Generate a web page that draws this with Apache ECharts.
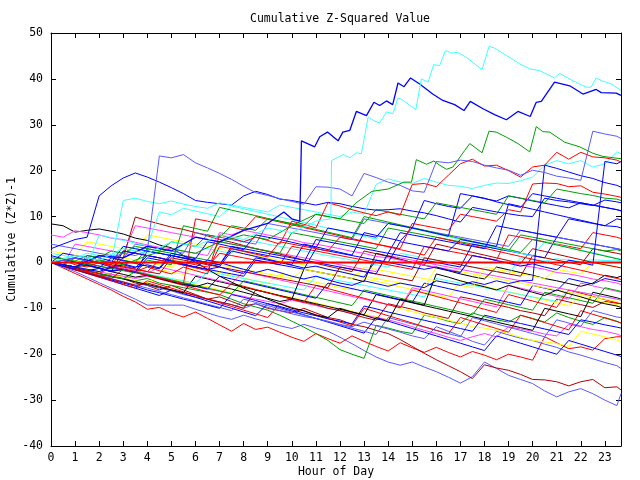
<!DOCTYPE html>
<html><head><meta charset="utf-8">
<script src="https://cdn.jsdelivr.net/npm/echarts@6/dist/echarts.min.js"></script>
<style>html,body{margin:0;padding:0;background:#fff}#c{width:640px;height:480px}</style>
</head><body><div id="c"></div>
<script>
const FONT = 'DejaVu Sans Mono';
const BLUE='#0000ff', LBLUE='#5a5aff', RED='#ff0000', DRED='#b00000', GREEN='#00a000', CYAN='#40ffff', MAG='#ff40ff', YEL='#ffff00', BLK='#000000';

// half-hour grid used by most lines
const hours = [0,0.5,1,1.5,2,2.5,3,3.5,4,4.5,5,5.5,6,6.5,7,7.5,8,8.5,9,9.5,10,10.5,11,11.5,12,12.5,13,13.5,14,14.5,15,15.5,16,16.5,17,17.5,18,18.5,19,19.5,20,20.5,21,21.5,22,22.5,23,23.5,23.67];

const L1 = [0,-1.2,-2.4,-3.6,-4.8,-6,-7.4,-8.6,-10.2,-9.8,-11,-11.9, -10.8,-12.2,-13.6,-15,-13.3,-14.6,-14.1,-15.2,-16.3,-17.2,-15.5,-16.6, -17.6,-16,-17.2,-18.3,-19.3,-17.5,-18.6,-19.6,-18.5,-19.6,-20.6,-19.4, -20.2,-21.2,-20,-20.6,-21.3,-16.2,-17.5,-18.8,-18.4,-19.1,-16.6,-16.2, -16.2];
const LB1 = [0,-1,-2,-3.2,-4.4,-5.6,-6.8,-8,-9.3,-9.3,-9.3,-9.3, -10.2,-11,-11.8,-12.4,-11.5,-12.3,-13,-13.8,-14.4,-13.5,-14.3,-15, -16.3,-17.7,-19.2,-20.6,-21.7,-22.4,-21.7,-22.8,-23.8,-25,-26.3,-24.9, -21.7,-23.1,-24.6,-25.5,-26.4,-28,-29.3,-28.2,-27.5,-28.6,-30,-31.2, -28.6];
const DR1 = [0,-0.5,-1.5,-2,-3,-2.5,-3.5,-4.5,-5,-6,-5,-6, -7,-8,-7.5,-8.5,-9.5,-9,-10,-10.5,-11,-10,-11,-12, -12.5,-13.5,-14,-14.8,-15.5,-16.8,-18.3,-19.8,-21.2,-22.5,-23.8,-25.3, -22.3,-23,-23.5,-24.4,-25.5,-25.6,-26,-26.9,-26,-25.5,-27.3,-27.1, -27.8];
const G1 = [0,-0.5,-1,-1.5,-2.5,-3,-3.5,-4,-3.5,-4.5,-5,-5.5, -6,-6.5,-7,-8,-9,-9.7,-10.4,-11.5,-12.8,-14.1,-15.5,-17, -19,-20,-20.9,-13.7,-14.3,-15,-15.5,-11.5,-12,-12.8,-13.3,-11, -11.8,-12.5,-13,-11.5,-12.2,-13,-11,-12,-12.8,-13.5,-12,-12.8, -13.2];
const LB2 = [0,-0.5,-1.2,-1.8,-2.5,-3.2,-3.5,-4.2,-5,-5.6,-6.2,-7, -7.5,-8,-8.6,-9.2,-10,-9,-9.8,-10.5,-11.2,-11.8,-12.2,-12.8, -13.5,-14,-13,-13.8,-14.5,-15.2,-16,-16.6,-14,-15,-16,-17.2, -18,-15,-15.8,-16.5,-17,-17.8,-18.5,-19.5,-20.2,-21,-21.8,-22.5, -23.1];
const R2 = [0,0.5,-0.5,-1,0,-0.8,-1.5,-2,-1,-1.8,-2.5,-1, -1.8,-2.5,6,5.3,4.5,5.5,4.8,4,9,8.3,7.5,13, 12.3,11.5,10.8,10.2,11,10.3,17,17.2,16.5,19,21.5,22.5, 21,21.2,20,18.6,20.8,21.2,24,22.5,24,23,22.8,22.3, 21.9];
const F1 = [0,-0.5,-1,-0.5,-1.2,-2,2.5,2,1.5,1,0.3,-0.5, -1,0.5,0,-0.8,-1.5,-2.2,-1.5,-2.2,-3,-3.6,-3,-3.8, -4.5,-5,-4,-4.6,-5.2,-4.5,-5,-5.5,-4,-4.5,-5,-4.2, -4.8,-4,-4.6,-4,-3.9,21.2,20.5,19.7,18.9,18.3,17.4,16.8, 16.4];
const S1 = [0,0.5,1,0.5,-0.2,-1,-0.5,-1.2,1.5,1,0.3,-0.3, -1,-1.5,-1,-1.8,-2.4,1,0.5,0,-0.6,-1.2,-0.8,-1.5, -2,-2.6,-3.2,0.5,0,-0.5,-1,-1.5,-1,-1.7,-2.2,1.5, 1,0.4,-0.2,-0.8,-0.3,-1,-1.6,0.5,0,-0.6,22,21.5, 22];
const J1 = [3,4,5,5.5,14.5,16.7,18.4,19.5,18.6,17.5,16.3,15, 13.5,13.1,12.8,12.5,14.5,15.5,14.8,13.8,13.5,13,12.5,13.1, 12.8,12.2,11.7,11.4,11.5,11.7,11.2,10.8,10.2,9.5,8.8,12, 11.5,11,10.6,10.2,10,14,13.5,13.2,12.8,12.4,13.6,13.2, 13];
const K1 = [8.4,8,6.6,7,7.3,6.8,6.2,5.3,4.8,3.8,3.2,1.5, 0,-1.5,-3,-4.3,-5.6,-6.8,-8,-9,-10,-10.5,-11.5,-12, -10,-10.8,-11.5,-12.3,-12.8,-8,-8.7,-9.3,-2.5,-3.2,-4,-4.7, -5.3,-6,-5,-5.8,-6.5,-7.2,-6,-6.8,-7.5,-8.3,-9,-9.5, -9.8];
const K2 = [0,-0.5,-1.2,-1.8,-1.3,-2,-2.6,-3.2,-2.8,-3.5,-4.2,-4.8, -5.3,-4.5,-5.2,-5.8,-6.5,-7.2,-7.8,-8.5,-8,-1.5,-2,-2.5, -3,-3.5,-4.2,2,1.4,0.7,0,-0.6,-1.2,-1.8,-2.5,-3.1, -3.6,-1,-1.6,-2.2,-2.8,-3.5,-4,-4.6,-5.2,-4.5,-2.8,-3.3, -3];
const G2 = [1,0.8,0.3,1.5,1,2.5,2,3.5,3,2.5,4.5,4, 3.5,6,5.5,8,7.5,7,9.5,9,8.5,8,10.5,10, 9.5,9,8.5,11.5,11,10.5,10,9.5,13,12.5,12,11.5, 11,10.5,14.5,14,13.5,13,16,15.5,15,14.6,14,13.8, 13.5];
const C2 = [0,0.5,-0.2,1,0.5,0,13.5,14,13.3,12.8,13.4,12.7, 12.2,11.8,13,12.5,12,11.5,11,12.5,12,11.5,11,10.5, 10,11,10.5,17,18.2,17.5,17.2,18.3,17.5,16.8,16.6,16.1, 16.8,17.3,17.2,17.8,18.6,21.2,22.2,21.5,22.2,20.8,21.5,24.1, 23.7];
const B3 = [0,-0.8,-1.5,1.5,1,0.3,-0.3,-1,-0.5,-1.2,2,1.4, 0.8,4.5,4,3.4,2.8,6,5.5,5,4.4,3.8,3.2,7.5, 7,6.5,6,5.5,8.5,8,7.5,13.5,12.8,12.2,11.8,14.5, 14,13.2,12.6,12,15,14.5,14,13.5,13,12.5,12,11.5, 11.3];
const B4 = [0,0.5,0,-0.7,-1.3,-2,-1.5,-2.2,2.5,2,1.5,1, 0.5,0,-0.5,3,2.5,2,1.5,1,0.5,0,5,4.5, 4,3.5,3,2.5,2,6.5,6,5.5,5,4.5,4,3.5, 3,8,7.5,7,6.5,6,5.5,9.5,9,8.5,8,7.8, 7.5];
const R4 = [0,-0.6,-1.2,1,0.4,-0.2,-0.8,-1.4,-2,0.5,0,-0.6, -1.2,-1.8,3.5,3,2.4,1.8,1.2,4.5,4,3.5,3,2.5, 5.5,5,4.5,4,3.5,3,8.5,8,7.5,7,10.5,10, 9.5,9,11.5,11,17.1,17.3,17.2,16.5,16.7,15.3,14.9,14.4, 14.2];
const DR2 = [0,-0.8,-1.6,-2.2,-3,-3.6,-4.3,-5,-4.5,-5.2,-6,-6.6, -7.2,-8,-8.6,-9.2,-10,-6,-6.6,-7.3,-8,-8.6,-9.2,-10, -10.5,-11.2,-12,-12.6,-9,-9.6,-10.2,-11,-11.6,-12.2,-7.5,-8, -8.6,-9.2,-9.8,-10.5,-11,-11.6,-8,-8.6,-9.2,-9.8,-8.5,-8.9, -9];
const DR3 = [0,-0.5,-1,-0.2,-0.8,-1.4,1,9.9,9.1,8.4,7.7,7.2, 6.5,5.8,5,4.4,3.7,3,2.4,1.8,1.2,0.5,-0.2,-0.8, -1.4,-2,2.5,1.9,1.3,0.6,0,-0.6,4,3.4,2.8,2.2, 1.6,1,0.4,-0.2,3,2.4,1.8,1.2,0.6,0,-0.5,-1, -1.2];
const M1 = [6,5.5,6.9,6.5,6,5.3,5,4.4,3.8,3.3,3,2.4, 2,1.5,6.5,6,7,6.5,6,5.4,5,4.3,4,3.5, 3,2.4,2,1.3,1,0.5,0,-0.6,-1,-1.5,-2.1,1.5, 1,0.4,0,-0.6,-1,-1.5,-2.2,-2.5,-3,-3.6,-4,-4.5, -4.8];
const M2 = [0,-0.5,-1,-1.6,-2,-2.6,-3,-3.5,-3,-3.6,-4.2,-4.8, -5.2,-5.8,-6.3,-6.9,-7.4,-8,-8.5,-9,-8.2,-8.8,-9.4,-10, -10.5,-11,-11.5,-12,-12.5,-13.2,-14,-14.8,-15.5,-16.3,-17,-16.2, -15.5,-16.2,-14,-14.5,-15,-15.6,-16,-13.5,-14,-14.6,-15,-15.6, -16];
const M3 = [0,-0.6,-1.2,0.5,0,-0.6,-1.2,-1.8,-2.4,-1,-1.6,-2.2, -2.8,-3.4,-4,-4.6,-2,-2.6,-3.2,-3.8,-4.4,-5,-5.6,-6.2, -6.8,-7.4,-8,-8.6,-9.2,-9.8,-5.5,-6.1,-6.7,-7.3,-7.9,-8.5, -9.1,-9.7,-5,-5.6,-6.2,-6.8,-7.4,-8,-4.5,-5.1,-5.7,-6.3, -6.5];
const Y1 = [0,-0.4,-1.1,-1.5,-2.3,-2.8,-3.2,-4,-4.4,-3,-3.7,-4.1, -4.9,-5.3,-6,-6.6,-5.2,-5.9,-6.4,-7.2,-7.6,-8.3,-8.8,-9.5, -10,-10.6,-11.3,-11.8,-12.5,-10,-10.7,-11.4,-12,-12.6,-13.2,-14, -14.3,-14.8,-15.5,-16.3,-17,-17.3,-17.7,-18.3,-15,-15.6,-16.2,-16.9, -17.2];
const Y2 = [0,0.5,-0.1,-0.7,-1.2,0.8,0.3,-0.3,-0.9,-1.5,-2.1,-2.6, -1,-1.6,-2.2,-2.8,-3.4,-4,-4.6,-2.5,-3.1,-3.7,-4.3,-4.9, -5.5,-6,-3.5,-4.1,-4.7,-5.3,-5.9,-6.5,-7.1,-7.7,-4,-4.6, -5.2,-5.8,-6.4,-7,-7.6,-8.2,-8.8,-9.4,-7.5,-8.1,-8.7,-9.2, -9.4];
const Y3 = [0,1,0.5,0,2,1.5,1,0.5,0,-0.5,-1,1, 0.5,0,-0.5,-1,-1.5,-2,-2.5,-3,-3.5,-1.5,-2,-2.5, -3,-3.5,-1,-1.5,-2,-2.5,-3,-3.5,-4,-4.5,-5,-5.5, -1,-1.5,-2,-2.5,-3,-3.5,-1.5,-2,-2.5,0,-0.5,-1, -1.2];
const C3 = [2,1.5,1,2,1.5,1,3.5,3,2.5,2,1.5,4, 3.5,3,2.5,2,5,4.5,4,3.5,3,2.5,2,1.5, 1,0.5,0,-0.5,-1,2,1.5,1,0.5,0,-0.5,-1, -1.5,-2,-2.5,1,0.6,0.3,0.8,0.5,0.2,0.6,0.4,0.5, 0.3];
const C4 = [0,-0.5,-1,-1.5,-2,-1,-1.5,-2,-2.5,-3,-3.5,-4, -4.5,-2,-2.5,-3,-3.5,-4,-4.5,-5,-5.5,-6,-3,-3.5, -4,-4.5,-5,-5.5,-6,-6.5,-7,-7.5,-3.5,-4,-4.5,-5, -5.5,-6,-6.5,-7,-7.5,-8,-8.5,-6,-6.5,-7,-7.5,-8, -8.2];
const G3 = [0,-0.6,-1.2,-1.8,-2.4,-3,-3.6,-2,-2.6,-3.2,-3.8,-4.4, -5,-5.6,-6.2,-6.8,-4,-4.6,-5.2,-5.8,-6.4,-7,-7.6,-8.2, -8.8,-9.4,-6,-6.6,-7.2,-7.8,-8.4,-9,-9.6,-10.2,-10.8,-11.4, -8,-8.6,-9.2,-9.8,-10.4,-6.5,-7.1,-7.7,-8.3,-8.9,-5.5,-6.1, -6.3];
const G4 = [0,0.5,0,-0.5,1.5,1,0.5,0,3,2.5,2,1.5, 1,0.5,4.5,4,3.5,3,2.5,2,6.5,6,5.5,5, 4.5,4,3.5,3,7.5,7,6.5,6,5.5,5,4.5,4, 3.5,3,2.5,6,5.5,5,4.5,4,3.5,3,2.5,2.8, 2.5];
const B5 = [1.5,0.8,0.1,-0.6,-1.2,-1.8,-1.5,-2.1,-2.8,-3.4,-4,-4.6, -5.2,-5.8,-3,-3.6,-4.2,-4.8,-5.4,-6,-6.6,-7.2,-7.8,-4.5, -5.1,-5.7,-6.3,-6.9,-7.5,-8.1,-8.7,-4.5,-5.1,-5.7,-6.3,-6.9, -7.5,-8.1,-8.7,-9.3,-5,-5.6,-6.2,-3.5,-4.1,-4.7,-3.5,-4, -4.2];
const B6 = [0,-0.8,-1.5,-2.3,-3,-3.8,-4.5,-5.2,-6,-6.6,-7.3,-8, -8.6,-9.3,-10,-7,-7.6,-8.3,-9,-9.6,-10.3,-11,-11.6,-12.3, -12.8,-13.4,-9.5,-10.1,-10.8,-11.4,-12,-12.6,-13.2,-13.8,-14.4,-15, -11.5,-12.1,-12.7,-13.3,-13.9,-14.5,-15.1,-15.7,-12.5,-13,-13.6,-14.1, -14.3];
const B7 = [0,2,1.5,1,0.5,0,3.5,3,2.5,2,1.5,1, 0.5,0,-0.5,3.5,3,2.5,2,1.5,1,0.5,0,-0.5, -1,-1.5,-2,-2.5,2,1.5,1,0.5,0,-0.5,-1,4, 3.5,3,2.5,2,1.5,1,5.5,5,4.5,4,3.5,3, 2.8];
const B8 = [0,0.6,0,-0.6,-1.2,1,0.4,-0.2,-0.8,-1.4,1.5,0.9, 0.3,-0.3,-0.9,2.5,1.9,1.3,0.7,0.1,-0.5,4,3.4,2.8, 2.2,1.6,6.5,5.9,5.3,4.7,7.5,6.9,6.3,5.7,15,14.5, 13.9,13.4,14.5,14,13.4,12.9,12.4,11.9,13,12.5,12,11.5, 11.2];
const B9 = [0,-0.5,-1,-1.5,-2,-1,-1.5,-2,1,0.5,0,-0.5, -1,-1.5,-2,-2.5,-3,0.5,0,-0.5,-1,-1.5,3,2.5, 2,1.5,1,0.5,0,4.5,4,3.5,3,2.5,5,4.5, 4,3.5,12.8,12.2,11.6,11,10.4,9.8,9.2,8.6,8,9.5, 9.3];
const R5 = [0,-0.5,1,0.5,0,-0.5,2.5,2,1.5,1,0.5,0, -0.5,-1,2,1.5,1,0.5,0,-0.5,3.5,3,2.5,2, 1.5,1,0.5,0,-0.5,-1,-1.5,3.5,3,2.5,2,1.5, 1,0.5,6,5.5,5,4.5,4,3.5,3,6.5,6,5.5, 5.2];
const R6 = [0,-0.7,-1.4,-2.1,-2.8,-3.5,-1.5,-2.2,-2.9,-3.6,-4.3,-5, -5.7,-6.4,-7.1,-4.5,-5.2,-5.9,-6.6,-7.3,-8,-8.7,-5,-5.7, -6.4,-7.1,-7.8,-8.5,-9.2,-9.9,-6,-6.7,-7.4,-8.1,-8.8,-9.5, -10.2,-10.9,-7,-7.7,-8.4,-9.1,-9.8,-6,-6.7,-7.4,-8.1,-8.8, -9];
const R7 = [0,-0.8,-1.6,-2.4,-3.2,-4,-4.8,-5.6,-4,-4.8,-5.6,-6.4, -7.2,-8,-8.8,-9.6,-10.4,-11.2,-12,-9,-9.8,-10.6,-11.4,-12.2, -13,-13.8,-10,-10.8,-11.6,-12.4,-13.2,-14,-14.8,-15.6,-12,-12.8, -13.6,-14.4,-15.2,-11.5,-12.3,-13.1,-13.9,-14.7,-10.5,-11.3,-12.1,-12.9, -13.2];
const LB3 = [0,-0.7,-1.4,-2.1,-2.8,-3.5,-4.2,-4.9,-5.6,-6.3,-7,-7.7, -8.4,-9.1,-9.8,-10.5,-8,-8.7,-9.4,-10.1,-10.8,-11.5,-12.2,-12.9, -13.6,-14.3,-15,-15.7,-12,-12.7,-13.4,-14.1,-14.8,-15.5,-16.2,-12, -12.7,-13.4,-14.1,-14.8,-15.5,-16.2,-12.5,-13.2,-13.9,-10.5,-11.2,-11.9, -12];
const LB4 = [4,3.5,3,2.5,2,1.5,1,4,3.5,3,2.5,2, 6.5,6,5.5,5,4.5,4,8.5,8,7.5,7,6.5,6, 5.5,5,9.5,9,8.5,8,7.5,7,6.5,6,5.5,5, 4.5,4,3.5,7,6.5,6,5.5,5,4.5,4,3.5,3, 2.8];
const B10 = [0,-0.8,-1.6,-2.4,-3.2,-4,-4.8,-5.6,-6.4,-7.2,-6,-6.8, -7.6,-8.4,-9.2,-10,-10.8,-11.6,-9,-9.8,-10.6,-11.4,-12.2,-13, -13.8,-14.6,-15.4,-12,-12.8,-13.6,-14.4,-15.2,-16,-16.8,-17.6,-18.4, -19.2,-16,-16.8,-17.6,-18.4,-19.2,-20,-17,-17.8,-18.6,-19.4,-20.2, -20.5];
const K3 = [0,-0.6,-1.2,-1.8,-2.4,-3,-3.6,-4.2,-4.8,-5.4,-6,-6.6, -3,-3.6,-4.2,-4.8,-5.4,-6,-6.6,-7.2,-7.8,-8.4,-9,-9.6, -10.2,-10.8,-11.4,-7,-7.6,-8.2,-8.8,-9.4,-10,-10.6,-11.2,-11.8, -12.4,-13,-13.6,-14.2,-14.8,-10,-10.6,-11.2,-11.8,-6.5,-7.1,-7.7, -8];
const DR4 = [0,-0.5,-1,0.5,0,-0.5,-1,-1.5,-2,-2.5,1,0.5, 0,-0.5,-1,-1.5,-2,-2.5,-3,-3.5,-4,-4.5,-5,-5.5, -1,-1.5,-2,-2.5,-3,-3.5,-4,1,0.5,0,-0.5,-1, -1.5,-2,-2.5,-3,1.5,1,0.5,0,-0.5,3,2.5,2, 1.8];
const N1 = [0,0.5,-0.2,-0.8,6,5.4,4.8,4.2,3.6,11,10.4,11.8, 11.2,10.6,10,12.3,11.7,11.1,10.5,9.9,9.3,8.7,8.1,7.5, 6.9,6.3,5.7,5.1,8.6,8,7.4,6.8,6.2,5.6,5,4.4, 3.8,3.2,2.6,2,1.4,4.5,3.9,3.3,2.7,2.1,1.5,0.9, 0.7];
const N2 = [0,-0.5,-1,-0.3,-0.8,-1.3,-1.8,-2.3,0.5,0,-0.5,8, 7.4,6.8,12,11.4,10.8,10.2,9.6,9,8.4,7.8,7.2,6.6, 6,5.4,10,9.4,8.8,8.2,7.6,7,6.4,5.8,5.2,4.6, 4,3.4,2.8,2.2,5,4.4,3.8,3.2,2.6,2,1.4,0.8, 0.6];
const N3 = [0,-0.5,4,3.5,3,2.5,2,8,7.5,7,6.5,6, 5.5,5,4.5,4,3.5,3,2.5,2,1.5,1,0.5,0, -0.5,-1,-1.5,-2,1.5,1,0.5,0,-0.5,-1,-1.5,-2, -2.5,-3,-3.5,-4,-4.5,-5,-5.5,-6,-6.5,-7,-7.5,-8, -8.2];
const N4 = [2.5,2,1.5,4.5,4,3.5,3,2.5,6,5.5,5,4.5, 4,3.5,3,2.5,2,1.5,1,0.5,0,-0.5,-1,-1.5, -2,-2.5,-3,-3.5,-4,-4.5,-5,-5.5,-1,-1.5,-2,-2.5, -3,-3.5,-4,-4.5,-5,-5.5,-6,-6.5,-7,-7.5,-8,-8.5, -8.7];
const N5 = [0,-0.6,-1.2,-1.8,-2.4,-1,-1.6,-2.2,-2.8,-3.4,-4,-4.6, 9.5,9,8.3,7.7,7.1,10,9.4,8.8,8.2,7.6,7,6.4, 5.8,5.2,4.6,4,3.4,2.8,2.2,1.6,5.5,4.9,4.3,3.7, 3.1,2.5,1.9,1.3,0.7,0.1,-0.5,-1.1,-1.7,-2.3,-2.9,-3.5, -3.7];
const E1 = [0,0.5,1,0.3,1.5,1,2,1.5,2.6,23.2,22.8,23.5, 21.7,20.6,19.4,18.1,16.6,15.2,14.6,13.9,13.3,12.7,16.5,16.4, 16,14.5,19.4,18.5,17.5,16.8,15.6,15.3,22,21.7,22.3,22, 21.2,20.6,20.1,19,20.1,19.6,18.8,18.4,17.9,28.6,28,27.5, 27];

// the three highest lines, traced at their own times
const hoursA = [0,1,2,3,4,5,6,7,8,9,9.67,10,10.33,10.4,10.95,11.16,11.48,11.92,12.12,12.41,12.68,13.1,13.41,13.65,13.93,14.19,14.41,14.66,14.93,15.31,15.85,16.27,16.76,17.15,17.41,17.94,18.42,18.91,19.39,19.9,20.15,20.36,20.91,21.54,22.09,22.64,22.85,23.47,23.67];
const valuesA = [0,-1,1.5,1,3.5,2.5,5.5,4.5,7,8.5,11,9.5,9,26.5,25.2,27.4,28.4,26.5,28.4,28.8,32.9,32,34.9,34.2,35.2,34.4,39.1,38.3,40.2,38.9,36.7,35.3,34.4,33.1,35.1,33.5,32.2,31.1,32.9,31.8,34.9,35.1,39.3,38.5,36.7,37.7,37,36.9,36.4];
const hoursB = [0,1,2,3,4,5,6,7,8,9,10,11,11.62,11.65,12.13,12.41,12.68,12.89,13.17,13.44,13.65,13.93,14.2,14.41,14.62,15.15,15.38,15.66,15.89,16.14,16.38,16.63,16.88,17.25,17.9,18.19,18.42,18.91,19.46,19.88,20.29,20.91,21.12,21.67,22.23,22.43,22.64,22.92,23.27,23.67];
const valuesB = [0,1.5,0.5,3,2,4.5,3.5,6,5,7.5,6.5,9,9.5,22.2,23.5,22.8,23.9,23.7,31.7,30.8,30.4,32.8,32.4,35.9,35.3,33.3,40,39.3,43.1,42.9,46.2,45.6,45.8,44.7,42,47.1,46.7,45.1,43.3,42.2,41.8,40.2,41.2,39.6,38.2,38.2,40.2,39.5,38.9,37.5];
const hoursC = [0,1,2,3,4,5,6,7,8,9,10,11,12,12.67,13.33,14,14.65,14.97,15.17,15.59,15.9,16.14,16.42,16.69,17.18,17.39,17.9,18.19,18.49,18.91,19.39,19.88,20.15,20.43,20.71,21.33,21.95,22.5,22.92,23.67];
const valuesC = [0,-1,0.5,-0.5,1.5,3,2,4.5,6,5,8,10.5,9.5,13,15.5,16,17.5,17.5,22.4,21.4,22.1,21.2,20.3,20.8,24.4,25.9,23.9,28.6,28.4,27.3,25.9,24.1,29.6,28.5,28.4,26.2,25.2,23.8,23.1,22.6];

const zeroLine = [[0,0],[23.67,0]];

const gridLines = [
  [L1,RED],[LB1,LBLUE],[DR1,DRED],[G1,GREEN],[LB2,LBLUE],[Y1,YEL],[M2,MAG],[B10,BLUE],
  [LB3,LBLUE],[R7,RED],[B6,BLUE],[DR2,DRED],[K3,BLK],[Y2,YEL],[M3,MAG],[C4,CYAN],
  [G3,GREEN],[R6,RED],[B5,BLUE],[N4,YEL],[N3,MAG],[K1,BLK],[K2,BLK],[Y3,YEL],[C3,CYAN],[DR4,DRED],
  [DR3,DRED],[M1,MAG],[G4,GREEN],[B7,BLUE],[R5,RED],[N5,RED],[LB4,LBLUE],[N1,CYAN],[N2,GREEN],[B4,BLUE],[B9,BLUE],
  [B8,BLUE],[B3,BLUE],[G2,GREEN],[J1,BLUE],[R4,RED],[C2,CYAN],[F1,BLUE],[S1,BLUE],
  [R2,RED],[E1,LBLUE]
];

const pairs = (xs, ys) => xs.map((x, i) => [x, ys[i]]);
const lineSeries = (data, color, w) => ({
  type: 'line', data, showSymbol: false, symbol: 'none', silent: true,
  lineStyle: { color, width: w || 1 }, animation: false, xAxisIndex: 0, yAxisIndex: 0
});

const series = gridLines.map(([v, c]) => lineSeries(pairs(hours, v), c));
series.push(lineSeries(pairs(hoursC, valuesC), GREEN));
series.push(lineSeries(pairs(hoursA, valuesA), BLUE, 1.3));
series.push(lineSeries(pairs(hoursB, valuesB), CYAN));
series.push(lineSeries(zeroLine, RED, 2));

const txt = { color: '#000', fontFamily: FONT, fontSize: 11.5 };
const chart = echarts.init(document.getElementById('c'), null, { renderer: 'canvas' });
chart.setOption({
  backgroundColor: '#fff',
  animation: false,
  title: { text: 'Cumulative Z-Squared Value', left: 245, top: 8, textStyle: Object.assign({ fontWeight: 'normal' }, txt) },
  grid: { left: 51, right: 19, top: 33, bottom: 34, containLabel: false, outerBoundsMode: 'none' },
  xAxis: [
    { type: 'value', position: 'bottom', min: 0, max: 23.67, interval: 1,
      name: 'Hour of Day', nameLocation: 'middle', nameGap: 20, nameMoveOverlap: false, nameTextStyle: txt,
      axisLine: { onZero: false, lineStyle: { color: '#000', width: 1 } },
      axisTick: { inside: true, length: 5, lineStyle: { color: '#000' } },
      axisLabel: Object.assign({ margin: 6, showMaxLabel: false, formatter: v => Number.isInteger(v) ? String(v) : '' }, txt),
      splitLine: { show: false } },
    { type: 'value', position: 'top', min: 0, max: 23.67, interval: 1,
      axisLine: { onZero: false, lineStyle: { color: '#000', width: 1 } },
      axisTick: { inside: true, length: 5, lineStyle: { color: '#000' } },
      axisLabel: { show: false }, splitLine: { show: false } }
  ],
  yAxis: [
    { type: 'value', position: 'left', min: -40, max: 50, interval: 10,
      name: 'Cumulative (Z*Z)-1', nameLocation: 'middle', nameGap: 33, nameMoveOverlap: false, nameTextStyle: txt,
      axisLine: { onZero: false, lineStyle: { color: '#000', width: 1 } },
      axisTick: { inside: true, length: 5, lineStyle: { color: '#000' } },
      axisLabel: Object.assign({ margin: 8 }, txt), splitLine: { show: false } },
    { type: 'value', position: 'right', min: -40, max: 50, interval: 10,
      axisLine: { onZero: false, lineStyle: { color: '#000', width: 1 } },
      axisTick: { inside: true, length: 5, lineStyle: { color: '#000' } },
      axisLabel: { show: false }, splitLine: { show: false } }
  ],
  series
});
</script></body></html>
